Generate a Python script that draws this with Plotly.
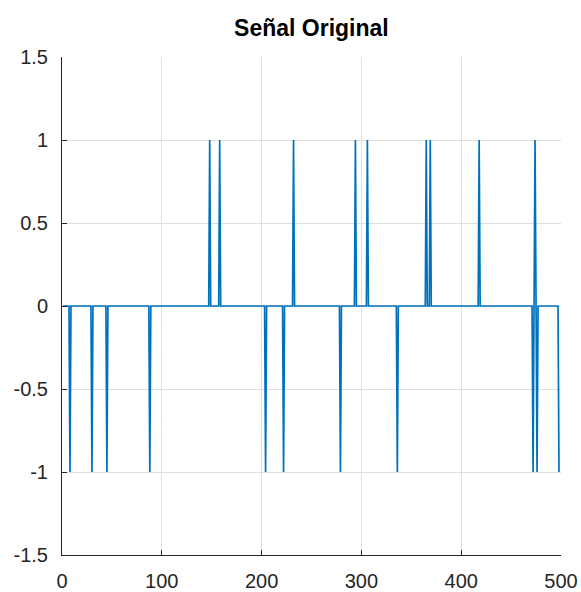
import numpy as np
import plotly.graph_objects as go

# Data: spike positions (sample index) and their values; all other samples are 0
n_samples = 498
down_spikes = [8, 30, 45, 88, 204, 222, 279, 336, 472, 476, 498]
up_spikes = [148, 158, 232, 294, 306, 365, 369, 418, 474]

x_ticks = [0, 100, 200, 300, 400, 500]
y_ticks = [-1.5, -1, -0.5, 0, 0.5, 1, 1.5]
y_tick_text = ["-1.5", "-1", "-0.5", "0", "0.5", "1", "1.5"]

x = np.arange(1, n_samples + 1)
y = np.zeros(n_samples)
for p in down_spikes:
    y[p - 1] = -1
for p in up_spikes:
    y[p - 1] = 1

fig = go.Figure()
fig.add_trace(go.Scatter(x=x, y=y, mode="lines",
                         line=dict(color="#0072BD", width=1.7),
                         showlegend=False))

axis_common = dict(
    showgrid=True, gridcolor="#DFDFDF", gridwidth=1,
    zeroline=False, showline=True, linecolor="#262626", linewidth=1,
    ticks="inside", ticklen=5, tickcolor="#262626", mirror=False,
    automargin=False,
    tickfont=dict(family="Liberation Sans, Arial, sans-serif", size=20, color="#262626"),
)

fig.update_layout(
    width=581, height=592,
    margin=dict(l=62, r=20, t=57, b=37),
    paper_bgcolor="white", plot_bgcolor="white",
    title=dict(text="<b>Señal Original</b>", x=0.536, xanchor="center",
               y=1 - 28 / 592, yanchor="middle",
               font=dict(family="Liberation Sans, Arial, sans-serif", size=23, color="black")),
    xaxis=dict(range=[0, 500], tickvals=x_ticks, ticklabelstandoff=8, **axis_common),
    yaxis=dict(range=[-1.5, 1.5], tickvals=y_ticks, ticktext=y_tick_text,
               ticklabelstandoff=9, **axis_common),
)

fig.write_html("out.html")
